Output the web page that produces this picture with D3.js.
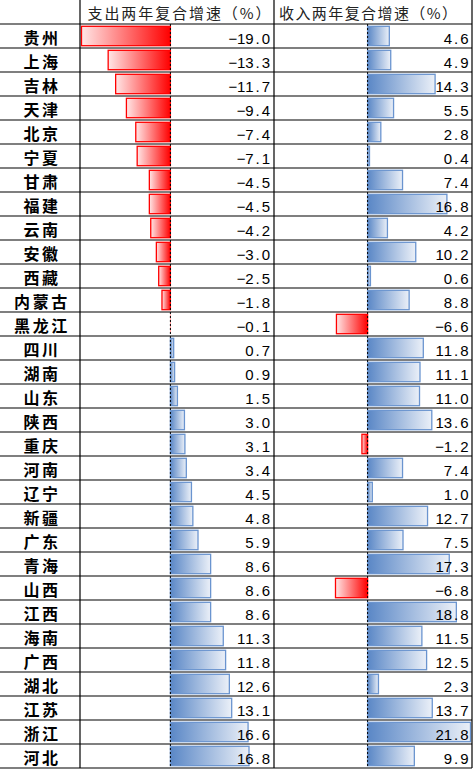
<!DOCTYPE html>
<html>
<head>
<meta charset="utf-8">
<script src="https://cdn.jsdelivr.net/npm/d3@7/dist/d3.min.js"></script>
<style>
  body { margin: 0; background: #fff; }
  svg { display: block; }
</style>
</head>
<body>
<div id="chart"></div>
<script>
const provinces = ['贵州', '上海', '吉林', '天津', '北京', '宁夏', '甘肃', '福建', '云南', '安徽',
  '西藏', '内蒙古', '黑龙江', '四川', '湖南', '山东', '陕西', '重庆', '河南', '辽宁',
  '新疆', '广东', '青海', '山西', '江西', '海南', '广西', '湖北', '江苏', '浙江', '河北'];
const spendGrowth = [-19.0, -13.3, -11.7, -9.4, -7.4, -7.1, -4.5, -4.5, -4.2, -3.0,
  -2.5, -1.8, -0.1, 0.7, 0.9, 1.5, 3.0, 3.1, 3.4, 4.5,
  4.8, 5.9, 8.6, 8.6, 8.6, 11.3, 11.8, 12.6, 13.1, 16.6, 16.8];
const incomeGrowth = [4.6, 4.9, 14.3, 5.5, 2.8, 0.4, 7.4, 16.8, 4.2, 10.2,
  0.6, 8.8, -6.6, 11.8, 11.1, 11.0, 13.6, -1.2, 7.4, 1.0,
  12.7, 7.5, 17.3, -6.8, 18.8, 11.5, 12.5, 2.3, 13.7, 21.8, 9.9];
const headers = ['支出两年复合增速（%）', '收入两年复合增速（%）'];

const W = 474, H = 769;
const headerH = 24;
const colX = [0, 80, 274, 472];

const svg = d3.select('#chart')
  .append('svg')
    .attr('width', W)
    .attr('height', H);

const defs = svg.append('defs');
const redGrad = defs.append('linearGradient').attr('id', 'gradRed');
redGrad.append('stop').attr('offset', '0%').attr('stop-color', '#ffe6e6');
redGrad.append('stop').attr('offset', '100%').attr('stop-color', '#ff0000');
const blueGrad = defs.append('linearGradient').attr('id', 'gradBlue');
blueGrad.append('stop').attr('offset', '0%').attr('stop-color', '#5a87c6');
blueGrad.append('stop').attr('offset', '100%').attr('stop-color', '#ebf0f8');

const y = d3.scaleBand()
  .domain(provinces)
  .range([headerH, headerH + provinces.length * 24]);

const xSpend = d3.scaleLinear()
  .domain([d3.min(spendGrowth), d3.max(spendGrowth)])
  .range([81.5, 249]);
const xIncome = d3.scaleLinear()
  .domain([d3.min(incomeGrowth), d3.max(incomeGrowth)])
  .range([335.5, 470.5]);

// header text
svg.selectAll('text.header')
  .data(headers)
  .join('text')
    .attr('class', 'header')
    .attr('x', (d, i) => [87.5, 279][i])
    .attr('y', 19)
    .attr('textLength', (d, i) => [183, 178][i])
    .attr('lengthAdjust', 'spacing')
    .attr('font-family', 'Noto Sans CJK SC')
    .attr('font-size', '15px')
    .attr('fill', '#222')
    .text(d => d);

// bars
function drawBars(values, x, textRight) {
  const g = svg.append('g');
  const x0 = x(0);
  g.selectAll('rect')
    .data(values)
    .join('rect')
      .attr('x', d => Math.min(x(d), x0))
      .attr('y', (d, i) => y(provinces[i]) + 2.3)
      .attr('width', d => Math.abs(x(d) - x0))
      .attr('height', 19.4)
      .attr('fill', d => d < 0 ? 'url(#gradRed)' : 'url(#gradBlue)')
      // very short bars barely show in the original
      .attr('stroke', d => Math.abs(x(d) - x0) < 1 ? 'none' : (d < 0 ? '#ff0000' : '#6a94cf'))
      .attr('stroke-width', 1.3);

  g.append('line')
      .attr('x1', x0).attr('x2', x0)
      .attr('y1', headerH).attr('y2', y.range()[1])
      .attr('stroke', '#000')
      .attr('stroke-width', 1)
      .attr('stroke-dasharray', '2,2');

  // values, monospaced cells
  const cell = 8.3;
  const rows = g.selectAll('g.val')
    .data(values)
    .join('g')
      .attr('class', 'val')
      .attr('transform', (d, i) => `translate(0,${y(provinces[i]) + 20.3})`);
  rows.selectAll('text')
    .data(d => {
      const s = d3.format('.1f')(d).replace('-', '−').split('');
      return s.map((c, k) => ({ c, pos: s.length - 1 - k }));
    })
    .join('text')
      .attr('x', d => textRight - d.pos * cell)
      .attr('text-anchor', 'middle')
      .attr('font-family', 'Liberation Sans, Arial, sans-serif')
      .attr('font-size', '15px')
      .attr('fill', '#000')
      .text(d => d.c);
}

drawBars(spendGrowth, xSpend, 266);
drawBars(incomeGrowth, xIncome, 464.5);

// province names
const names = svg.selectAll('g.name')
  .data(provinces)
  .join('g')
    .attr('class', 'name')
    .attr('transform', d => `translate(40.7,${y(d) + 19.5})`);
names.selectAll('text')
  .data(d => d.split('').map((c, k, arr) => ({ c, off: k - (arr.length - 1) / 2 })))
  .join('text')
    .attr('x', d => d.off * 18.6)
    .attr('text-anchor', 'middle')
    .attr('font-family', 'Noto Sans CJK SC')
    .attr('font-weight', 'bold')
    .attr('font-size', '16px')
    .attr('fill', '#000')
    .text(d => d.c);

// grid
const grid = svg.append('g')
  .attr('stroke', '#000')
  .attr('stroke-width', 1.2);
grid.selectAll('line.h')
  .data(d3.range(provinces.length + 1))
  .join('line')
    .attr('class', 'h')
    .attr('x1', 0).attr('x2', colX[3])
    .attr('y1', i => headerH + i * y.bandwidth())
    .attr('y2', i => headerH + i * y.bandwidth());
grid.selectAll('line.v')
  .data(colX.slice(1))
  .join('line')
    .attr('class', 'v')
    .attr('x1', d => d).attr('x2', d => d)
    .attr('y1', 0).attr('y2', y.range()[1]);
</script>
</body>
</html>
